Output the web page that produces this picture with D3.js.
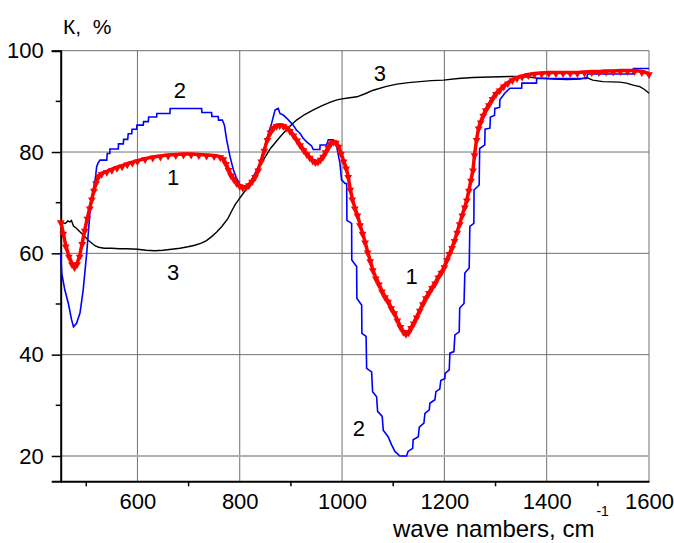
<!DOCTYPE html>
<html><head><meta charset="utf-8">
<script src="https://cdn.jsdelivr.net/npm/d3@7"></script>
<style>
html,body{margin:0;padding:0;background:#fff;}
text{font-family:"Liberation Sans",Arial,sans-serif;}
</style></head>
<body>
<svg id="chart" width="674" height="543"></svg>
<script>
// ---- data ----
const xMajorTicks = [600, 800, 1000, 1200, 1400, 1600];
const xMinorTicks = [500, 700, 900, 1100, 1300, 1500];
const yMajorTicks = [20, 40, 60, 80, 100];
const yMinorTicks = [30, 50, 70, 90];

// curve 1 (red, triangle markers)
const curve1 = [
[450,66.3],[455,64],[460,61.5],[466,59.5],[472,58],[477,57.4],[482,58],[487,59.5],[492,62],[497,64.6],
[502,67],[507,69],[511,70.8],[515,72.5],[519,74],[524,75.3],[530,75.8],[540,76.2],[550,76.6],[560,77],
[570,77.3],[580,77.7],[590,78.0],[600,78.3],[615,78.7],[630,79.0],[645,79.2],[660,79.4],[675,79.5],[690,79.6],
[705,79.6],[720,79.5],[735,79.4],[750,79.3],[762,79.1],[768,78.7],[773,77.8],[778,76.6],[783,75.5],[788,74.8],
[794,74],[800,73.4],[806,73.1],[812,73.2],[818,73.6],[824,74.3],[830,75.2],[836,76.5],[842,78.3],[848,80.4],
[854,82.5],[860,84.0],[866,84.9],[872,85.3],[878,85.4],[885,85.3],[891,84.9],[898,84.3],[905,83.4],[912,82.4],
[918,81.5],[925,80.5],[931,79.7],[937,79.0],[943,78.4],[948,78.1],[953,78.2],[958,78.6],[963,79.2],[968,80.1],
[973,81.0],[978,81.8],[983,82.1],[988,82.0],[993,81.2],[998,79.8],[1003,78.3],[1008,76.9],[1012,75.2],[1016,72.7],
[1020,70.8],[1025,69.0],[1030,67.6],[1035,65.7],[1040,64.0],[1045,62.3],[1050,60.3],[1055,58.6],[1060,56.8],[1066,55.2],
[1072,54.0],[1078,52.6],[1084,51.5],[1090,50.6],[1096,49.3],[1102,48.3],[1108,46.9],[1114,45.6],[1120,44.6],[1125,44.2],
[1130,44.5],[1135,45.4],[1140,46.3],[1146,47.5],[1152,48.8],[1158,50.1],[1164,51.3],[1170,52.3],[1176,53.3],[1182,54.2],
[1188,55.4],[1194,56.3],[1200,57.4],[1205,58.8],[1210,60.0],[1215,61.2],[1220,62.6],[1225,64.2],[1230,65.9],[1235,67.6],
[1240,69.2],[1244,70.6],[1248,72.5],[1252,74.5],[1256,76.5],[1259,79.5],[1263,82.5],[1267,84.8],[1271,86.0],[1276,87.3],
[1281,88.4],[1287,89.4],[1294,90.6],[1301,91.6],[1308,92.3],[1316,93.1],[1324,93.7],[1333,94.3],[1342,94.7],[1352,95.0],
[1364,95.3],[1376,95.5],[1390,95.6],[1404,95.7],[1418,95.7],[1432,95.7],[1446,95.7],[1460,95.7],[1474,95.8],[1488,95.9],
[1502,95.9],[1516,96.0],[1530,96.0],[1544,96.1],[1558,96.1],[1572,96.1],[1586,95.9],[1600,95.5]
];

// curve 2 (blue, stepped)
const curve2 = [
[450,60],[452,56.1],[458,52.8],[465,50.1],[471,47],[475,45.5],[481,46.2],[487.7,48.2],[494,52.8],[500.8,60],
[507,67.9],[513.7,72.5],[518,75],[520.3,77.1],[523,77.8],[526.8,78.4],[540,78.4],[541,79.7],[546,79.7],[546.3,80.6],
[562.6,80.6],[563,81.6],[572.4,81.6],[573,82.5],[581,82.5],[582,83.6],[588.8,83.6],[589.5,84.5],[598.5,84.5],[599,85.3],
[611.4,85.3],[612,86.0],[621.2,86.0],[622,86.9],[637.6,86.9],[638,87.6],[663.6,87.6],[664,88.6],[725.5,88.6],[726,87.8],
[745,87.8],[745.5,87.0],[758,87.0],[758.5,86.3],[766,86.3],[770,85.3],[774.4,82.4],[781,79.1],[787.5,76.5],[793,75.0],
[800.4,73.5],[803.7,72.8],[816.6,72.8],[823,74.5],[831,76],[839.5,77.8],[846,80],[852.6,82.4],[857,84],[862.4,85.7],
[869,88.3],[875.3,88.6],[878.6,87.6],[885,87.3],[891.7,86.7],[898,86.0],[904.6,85.3],[911,84.3],[917.7,83.7],[924,82.7],
[930.8,82.0],[940.5,81.2],[943.6,80.5],[956.7,80.5],[957,81.4],[969.8,81.4],[973,82.4],[982.8,82.4],[989.4,81.1],[995.8,77.8],
[999,74.5],[1005.6,73.8],[1009,73.8],[1009.5,66.5],[1018.7,65.9],[1019,58.7],[1028.5,57.4],[1029,51.1],[1038.3,49.8],[1038.8,44.2],
[1047,43.6],[1048,37.3],[1057.8,36.6],[1059.7,32.7],[1067.5,31.7],[1069.5,28.8],[1078.5,27.8],[1080.5,25.1],[1090,23.8],[1096.9,22.2],
[1103.3,20.9],[1113,20.0],[1126,20.0],[1129,20.9],[1138,21.5],[1139,23.2],[1149,23.8],[1151,25.7],[1160,26.5],[1162,28.4],
[1170.5,29.1],[1171.7,30.4],[1181.5,31.1],[1183.4,32.7],[1191,33.2],[1193,34.9],[1201,35.3],[1201.5,36.3],[1209.5,37.0],[1210.8,40.3],
[1218.6,40.6],[1220.6,43.9],[1229,44.5],[1230,49.2],[1238.4,50.1],[1240,56.1],[1248.5,57.1],[1249.8,65.3],[1257.6,65.9],[1258,72.5],
[1268,73.5],[1269,80.7],[1279,81.4],[1279.5,84.5],[1289,84.7],[1290,86.9],[1298,87.2],[1298.7,88.6],[1308,88.8],[1308.5,90.3],
[1318,91.6],[1328,92.6],[1351,92.6],[1351.5,93.6],[1380,93.6],[1380.5,94.5],[1478,94.5],[1480,95.4],[1569,95.4],[1569.5,96.5],
[1600,96.5]
];

// curve 3 (black)
const curve3 = [
[450,66.3],[455,66.0],[459,65.9],[464,66.4],[468,66.2],[471,66.5],[475,65.4],[480,65.0],[485,64.5],[491,63.9],
[497,63.3],[504,62.6],[511,62.0],[517,61.5],[524,61.2],[535,61.0],[550,61.0],[565,60.9],[580,60.9],[600,60.8],
[617,60.6],[634,60.5],[650,60.6],[667,60.8],[683,61.0],[699,61.3],[712,61.6],[725,62.0],[735,62.5],[745,63.3],
[755,64.2],[765,65.3],[777,66.9],[784,68.3],[791,69.6],[800,70.9],[813,72.7],[825,74.8],[835,76.6],[846,78.4],
[860,80.7],[879,83.0],[895,84.8],[911,86.3],[927,87.4],[944,88.3],[960,89.1],[976,89.8],[990,90.3],[1000,90.5],
[1015,90.7],[1029,90.9],[1045,91.5],[1061,92.2],[1085,92.9],[1107,93.4],[1130,93.7],[1152,93.9],[1175,94.1],[1198,94.2],
[1227,94.5],[1256,94.7],[1290,94.8],[1328,94.9],[1345,94.9],[1365,94.8],[1380,94.6],[1400,94.5],[1413,94.4],[1440,94.3],
[1465,94.4],[1478,94.7],[1490,94.2],[1510,93.9],[1543,93.8],[1556,93.6],[1569,93.2],[1582,92.9],[1592,92.3],[1600,91.6]
];

// curve number labels [text, x (cm-1), y (%)]
const curveLabels = [
["2", 683, 92.2], ["1", 670, 75.0], ["3", 670, 56.2],
["3", 1074, 95.5], ["1", 1136, 55.5], ["2", 1033, 25.5]
];

const yAxisTitle = "К,  %";
const xAxisTitle = "wave nambers, cm";
const xAxisTitleSup = "-1";

// ---- drawing ----
const svg = d3.select("#chart");
const xs = d3.scaleLinear().domain([450, 1600]).range([60.7, 649]);
const ys = d3.scaleLinear().domain([15, 100]).range([481.3, 50.7]);

// gridlines
const grid = svg.append("g");
grid.selectAll(".gx").data(xMajorTicks).enter().append("line")
  .attr("x1", d => xs(d)).attr("x2", d => xs(d))
  .attr("y1", ys(15)).attr("y2", ys(100))
  .attr("stroke", "#707070").attr("stroke-width", 1);
grid.selectAll(".gy").data(yMajorTicks).enter().append("line")
  .attr("x1", xs(450)).attr("x2", xs(1600))
  .attr("y1", d => ys(d)).attr("y2", d => ys(d))
  .attr("stroke", d => d === 20 ? "#b0b0b0" : "#707070")
  .attr("stroke-width", d => d === 20 ? 2 : 1);

// axes
const xAxis = d3.axisBottom(xs).tickValues(xMajorTicks).tickSize(0).tickPadding(12).tickFormat(d3.format("d"));
const gx = svg.append("g").attr("transform", `translate(0,${ys(15)})`).call(xAxis);
gx.select(".domain").attr("stroke", "#000").attr("stroke-width", 2);
gx.selectAll("text").attr("font-size", 22).attr("fill", "#000").attr("font-family", "Liberation Sans, Arial, sans-serif");
gx.selectAll(".minor").data(xMinorTicks).enter().append("line")
  .attr("x1", d => xs(d)).attr("x2", d => xs(d)).attr("y1", 0).attr("y2", 5)
  .attr("stroke", "#000").attr("stroke-width", 1.5);

const yAxis = d3.axisLeft(ys).tickValues(yMajorTicks).tickSize(9).tickPadding(8).tickFormat(d3.format("d"));
const gy = svg.append("g").attr("transform", `translate(${xs(450)},0)`).call(yAxis);
gy.select(".domain").attr("stroke", "#000").attr("stroke-width", 2);
gy.selectAll(".tick line").attr("stroke", "#000").attr("stroke-width", 1.5);
gy.selectAll("text").attr("font-size", 22).attr("fill", "#000").attr("font-family", "Liberation Sans, Arial, sans-serif");
gy.selectAll(".minor").data(yMinorTicks).enter().append("line")
  .attr("x1", -5).attr("x2", 0).attr("y1", d => ys(d)).attr("y2", d => ys(d))
  .attr("stroke", "#000").attr("stroke-width", 1.5);

// lines
const line = d3.line().x(d => xs(d[0])).y(d => ys(d[1]));
svg.append("path").datum(curve3).attr("d", line)
  .attr("fill", "none").attr("stroke", "#000").attr("stroke-width", 1.4);
svg.append("path").datum(curve2).attr("d", line)
  .attr("fill", "none").attr("stroke", "#0000ff").attr("stroke-width", 1.6);
svg.append("path").datum(curve1).attr("d", line)
  .attr("fill", "none").attr("stroke", "#ff0000").attr("stroke-width", 3.5);
const tri = d3.symbol().type(d3.symbolTriangle).size(26);
svg.append("g").selectAll("path").data(curve1).enter().append("path")
  .attr("d", tri)
  .attr("transform", d => `translate(${xs(d[0])},${ys(d[1]) + 1}) rotate(180)`)
  .attr("fill", "#ff0000");

// curve labels
svg.append("g").selectAll("text").data(curveLabels).enter().append("text")
  .attr("x", d => xs(d[1])).attr("y", d => ys(d[2]))
  .attr("text-anchor", "middle").attr("dominant-baseline", "central")
  .attr("font-size", 22).attr("fill", "#000").text(d => d[0]);

// axis titles
svg.append("text").attr("x", 63).attr("y", 34).attr("font-size", 21)
  .attr("fill", "#000").attr("xml:space", "preserve").style("white-space", "pre").text(yAxisTitle);
const xt = svg.append("text").attr("x", 393).attr("y", 537).attr("font-size", 24).attr("fill", "#000");
xt.append("tspan").text(xAxisTitle);
xt.append("tspan").attr("dy", -21).attr("dx", 2).attr("font-size", 14).text(xAxisTitleSup);
</script>
</body></html>
